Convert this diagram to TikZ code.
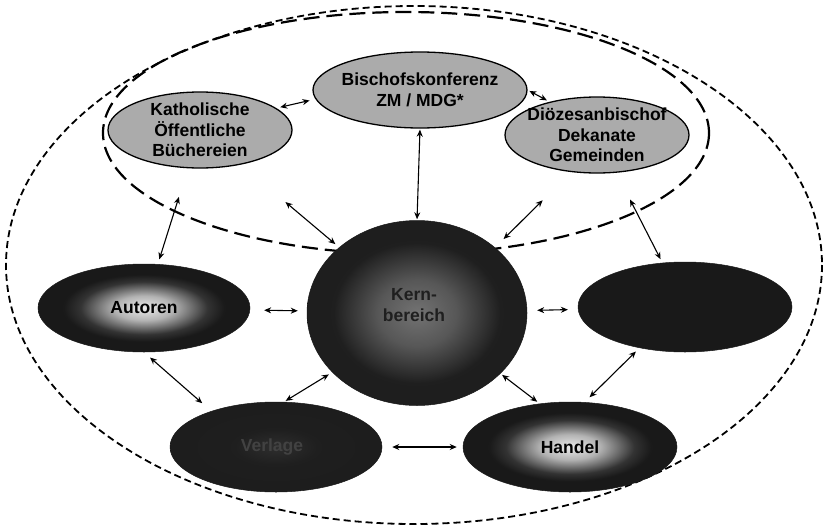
\documentclass[tikz,border=0pt]{standalone}
\usepackage{fontspec}
\setmainfont{Liberation Sans}
\usetikzlibrary{shapes.geometric,arrows.meta}
\pgfdeclareradialshading{glow}{\pgfpoint{0bp}{0bp}}{color(0bp)=(black!8); color(7bp)=(black!30); color(15bp)=(black!80); color(19bp)=(black!90); color(50bp)=(black!90)}
\pgfdeclareradialshading{ballshade}{\pgfpoint{0bp}{0bp}}{color(0bp)=(black!55); color(9bp)=(black!66); color(19bp)=(black!88); color(50bp)=(black!90)}
\pgfdeclareradialshading{dimglow}{\pgfpoint{0bp}{0bp}}{color(0bp)=(black!82); color(10bp)=(black!88); color(50bp)=(black!90)}
\begin{document}
\begin{tikzpicture}[x=1pt,y=-1pt,
  light/.style={ellipse, draw=black, line width=1.3pt, fill=black!33, inner sep=0pt},
  darkell/.style={ellipse, inner sep=0pt, draw=black!90, line width=0.5pt},
  lbl/.style={font=\fontsize{17.5}{20.5}\selectfont\bfseries, align=center, inner sep=0pt},
  dbl/.style={{Stealth[length=7pt,width=6pt]}-{Stealth[length=7pt,width=6pt]}, line width=1.1pt},
  outerdash/.style={draw=black, line width=1.8pt, dash pattern=on 7pt off 4pt},
  innerdash/.style={draw=black, line width=2.2pt, dash pattern=on 16pt off 7pt}]
\useasboundingbox (0,0) rectangle (826,530);

% dashed boundaries
\draw[outerdash] (414,265) ellipse [x radius=408, y radius=259];
\draw[innerdash] (406,133) ellipse [x radius=303, y radius=121];

% light (church) ellipses
\node[light, minimum width=214pt, minimum height=76pt] (bk) at (420,90) {};
\node[lbl] (bkt) at (bk.center) {Bischofskonferenz\\ZM / MDG*};
\node[light, minimum width=184pt, minimum height=76pt] (kath) at (200,130) {};
\node[lbl] (katht) at (kath.center) {Katholische\\Öffentliche\\Büchereien};
\node[light, minimum width=184pt, minimum height=76pt] (dio) at (597,135) {};
\node[lbl] (diot) at (dio.center) {Diözesanbischof\\Dekanate\\Gemeinden};

% central sphere
\node[darkell, shading=ballshade, minimum width=220pt, minimum height=185pt] (kern) at (417,313) {};
\node[lbl, text=black!88] (kernt) at (414,305) {Kern-\\bereich};

% dark ellipses
\node[darkell, shading=glow, minimum width=212pt, minimum height=88pt] (aut) at (144,308) {};
\node[lbl] (autt) at (aut.center) {Autoren};
\node[darkell, fill=black!90, minimum width=214pt, minimum height=90pt] (rgt) at (685,307) {};
\node[darkell, shading=dimglow, minimum width=212pt, minimum height=90pt] (ver) at (276,447) {};
\node[lbl, text=black!74] (vert) at (272,447) {Verlage};
\node[darkell, shading=glow, minimum width=214pt, minimum height=90pt] (han) at (570,447) {};
\node[lbl] (hant) at (han.center) {Handel};

% connectors
\draw[dbl, shorten <=4pt, shorten >=6pt] (kath.16) -- (bk.185);
\draw[dbl, shorten <=2pt, shorten >=3pt] (bk.0) -- (dio.145);
\draw[dbl, shorten <=1pt, shorten >=1pt] (bk.south) -- (kern.north);
\draw[dbl, shorten <=58pt, shorten >=5pt] (kath) -- (kern);
\draw[dbl, shorten <=40pt, shorten >=12pt] (dio.235) -- (kern.40);
\draw[dbl, shorten <=30pt, shorten >=5pt] (kath) -- (aut);
\draw[dbl, shorten <=30pt, shorten >=4pt] (dio) -- (rgt);
\draw[dbl, shorten <=14pt, shorten >=9pt] (aut) -- (kern);
\draw[dbl, shorten <=10pt, shorten >=10pt] (kern) -- (rgt);
\draw[dbl, shorten <=8pt, shorten >=12pt] (aut.270) -- (ver.151);
\draw[dbl, shorten <=2pt, shorten >=4pt] (ver.80) -- (kern.215);
\draw[dbl, shorten <=2pt, shorten >=3pt] (kern.-36) -- (han.125);
\draw[dbl, shorten <=5pt, shorten >=7pt] (rgt.222) -- (han.72);
\draw[dbl, shorten <=10pt, shorten >=6pt] (ver) -- (han);
\end{tikzpicture}
\end{document}
